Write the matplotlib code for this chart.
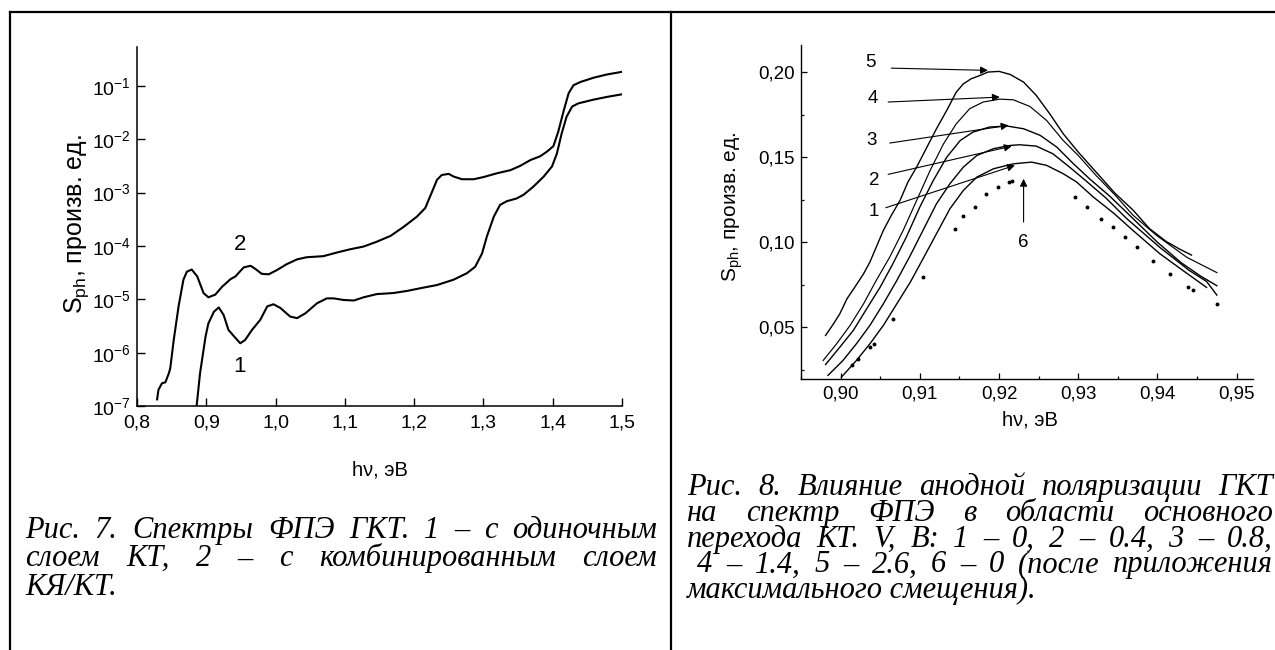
"""Two-panel figure: photoelectric spectra (log) and anode-bias series (linear)."""
import matplotlib
matplotlib.use("Agg")
import matplotlib.pyplot as plt
import numpy as np
from matplotlib.lines import Line2D
from matplotlib.ticker import FixedLocator, FuncFormatter, NullLocator, MultipleLocator

plt.rcParams["font.family"] = ["Liberation Sans", "DejaVu Sans"]
plt.rcParams["mathtext.fontset"] = "custom"
plt.rcParams["mathtext.rm"] = "Liberation Sans"
plt.rcParams["mathtext.it"] = "Liberation Sans:italic"

# ---- Fig. 7 data: photon energy (eV) and log10(S_ph) ----
e1 = [0.886, 0.891, 0.899, 0.903, 0.911, 0.918, 0.925, 0.932, 0.940, 0.949, 0.956,
      0.966, 0.978, 0.988, 0.997, 1.007, 1.021, 1.031, 1.043, 1.060, 1.074, 1.084,
      1.098, 1.113, 1.127, 1.146, 1.170, 1.190, 1.209, 1.233, 1.257, 1.276, 1.288,
      1.298, 1.305, 1.315, 1.324, 1.334, 1.348, 1.358, 1.372, 1.387, 1.399, 1.406,
      1.413, 1.420, 1.428, 1.437, 1.459, 1.478, 1.500]
log_s1 = [-7.0, -6.38, -5.69, -5.45, -5.23, -5.15, -5.29, -5.57, -5.69, -5.82, -5.76,
          -5.57, -5.38, -5.13, -5.09, -5.16, -5.32, -5.35, -5.26, -5.07, -4.98, -4.98,
          -5.01, -5.02, -4.96, -4.90, -4.88, -4.84, -4.79, -4.73, -4.63, -4.51, -4.39,
          -4.14, -3.82, -3.45, -3.23, -3.16, -3.11, -3.04, -2.89, -2.70, -2.51, -2.27,
          -1.89, -1.58, -1.39, -1.33, -1.26, -1.21, -1.16]
e2 = [0.829, 0.831, 0.836, 0.841, 0.846, 0.848, 0.853, 0.860, 0.867, 0.872, 0.879,
      0.887, 0.896, 0.903, 0.913, 0.923, 0.935, 0.942, 0.954, 0.964, 0.971, 0.980,
      0.990, 1.002, 1.016, 1.031, 1.045, 1.069, 1.089, 1.108, 1.127, 1.146, 1.166,
      1.185, 1.204, 1.216, 1.226, 1.233, 1.240, 1.250, 1.257, 1.269, 1.286, 1.300,
      1.319, 1.339, 1.353, 1.368, 1.382, 1.392, 1.401, 1.408, 1.416, 1.423, 1.430,
      1.440, 1.459, 1.478, 1.500]
log_s2 = [-6.87, -6.69, -6.57, -6.55, -6.38, -6.29, -5.76, -5.13, -4.63, -4.48, -4.44,
          -4.57, -4.88, -4.96, -4.91, -4.76, -4.62, -4.57, -4.40, -4.37, -4.43, -4.52,
          -4.53, -4.45, -4.34, -4.25, -4.21, -4.19, -4.12, -4.06, -4.01, -3.92, -3.81,
          -3.64, -3.45, -3.29, -2.98, -2.76, -2.67, -2.65, -2.70, -2.75, -2.75, -2.71,
          -2.64, -2.58, -2.50, -2.39, -2.32, -2.23, -2.13, -1.86, -1.46, -1.14, -0.99,
          -0.93, -0.85, -0.79, -0.74]
fig7_xticks = [0.8, 0.9, 1.0, 1.1, 1.2, 1.3, 1.4, 1.5]
fig7_yticks = [1e-7, 1e-6, 1e-5, 1e-4, 1e-3, 1e-2, 1e-1]

# ---- Fig. 8 data: bias series 1..5 and dotted curve 6 ----
c1x = [0.9001, 0.9020, 0.9037, 0.9054, 0.9071, 0.9088, 0.9104, 0.9121, 0.9138, 0.9155,
       0.9172, 0.9193, 0.9218, 0.9241, 0.9260, 0.9281, 0.9298, 0.9319, 0.9345, 0.9369,
       0.9403, 0.9432, 0.9462]
c1y = [0.0208, 0.0306, 0.0404, 0.0512, 0.0639, 0.0766, 0.0903, 0.1050, 0.1197, 0.1305,
       0.1383, 0.1432, 0.1461, 0.1471, 0.1452, 0.1403, 0.1354, 0.1266, 0.1170, 0.1070,
       0.0933, 0.0835, 0.0735]
c2x = [0.8984, 0.9003, 0.9020, 0.9037, 0.9054, 0.9071, 0.9088, 0.9104, 0.9121, 0.9138,
       0.9155, 0.9172, 0.9193, 0.9214, 0.9226, 0.9247, 0.9268, 0.9289, 0.9310, 0.9335,
       0.9361, 0.9403, 0.9440, 0.9462, 0.9475]
c2y = [0.0218, 0.0306, 0.0404, 0.0512, 0.0639, 0.0776, 0.0923, 0.1070, 0.1226, 0.1344,
       0.1442, 0.1510, 0.1550, 0.1569, 0.1573, 0.1565, 0.1520, 0.1442, 0.1360, 0.1260,
       0.1140, 0.0970, 0.0835, 0.0770, 0.0690]
c3x = [0.8981, 0.8999, 0.9016, 0.9033, 0.9050, 0.9066, 0.9083, 0.9100, 0.9117, 0.9134,
       0.9151, 0.9167, 0.9188, 0.9210, 0.9231, 0.9252, 0.9273, 0.9294, 0.9315, 0.9340,
       0.9369, 0.9400, 0.9430, 0.9455, 0.9475]
c3y = [0.0282, 0.0384, 0.0482, 0.0610, 0.0737, 0.0874, 0.1031, 0.1207, 0.1363, 0.1500,
       0.1598, 0.1647, 0.1677, 0.1683, 0.1667, 0.1628, 0.1559, 0.1461, 0.1370, 0.1270,
       0.1140, 0.1000, 0.0880, 0.0800, 0.0745]
c4x = [0.8978, 0.8995, 0.9012, 0.9029, 0.9045, 0.9062, 0.9079, 0.9096, 0.9113, 0.9130,
       0.9146, 0.9163, 0.9180, 0.9201, 0.9218, 0.9239, 0.9260, 0.9281, 0.9300, 0.9323,
       0.9346, 0.9369, 0.9399, 0.9437, 0.9475]
c4y = [0.0306, 0.0404, 0.0512, 0.0639, 0.0776, 0.0913, 0.1070, 0.1246, 0.1422, 0.1579,
       0.1696, 0.1785, 0.1824, 0.1841, 0.1837, 0.1798, 0.1716, 0.1598, 0.1510, 0.1390,
       0.1280, 0.1160, 0.1040, 0.0912, 0.0822]
c5x = [0.8981, 0.8991, 0.8999, 0.9008, 0.9018, 0.9029, 0.9037, 0.9045, 0.9054, 0.9064,
       0.9075, 0.9085, 0.9096, 0.9109, 0.9121, 0.9134, 0.9146, 0.9155, 0.9165, 0.9176,
       0.9186, 0.9200, 0.9214, 0.9231, 0.9247, 0.9264, 0.9281, 0.9300, 0.9323, 0.9346,
       0.9369, 0.9390, 0.9411, 0.9428, 0.9443]
c5y = [0.0453, 0.0521, 0.0580, 0.0668, 0.0737, 0.0815, 0.0884, 0.0972, 0.1070, 0.1158,
       0.1246, 0.1354, 0.1442, 0.1559, 0.1667, 0.1775, 0.1882, 0.1931, 0.1961, 0.1980,
       0.2000, 0.2004, 0.1986, 0.1941, 0.1863, 0.1755, 0.1638, 0.1530, 0.1410, 0.1290,
       0.1190, 0.1080, 0.1005, 0.0960, 0.0925]
c6x = [0.9014, 0.9022, 0.9037, 0.9042, 0.9066, 0.9104, 0.9144, 0.9155, 0.9170, 0.9184,
       0.9199, 0.9212, 0.9217, 0.9296, 0.9311, 0.9329, 0.9344, 0.9359, 0.9374, 0.9395,
       0.9416, 0.9439, 0.9445, 0.9475]
c6y = [0.0277, 0.0316, 0.0384, 0.0404, 0.0551, 0.0796, 0.1080, 0.1152, 0.1207, 0.1285,
       0.1324, 0.1354, 0.1358, 0.1266, 0.1207, 0.1138, 0.1089, 0.1031, 0.0972, 0.0890,
       0.0811, 0.0737, 0.0721, 0.0639]
fig8_xticks = [0.90, 0.91, 0.92, 0.93, 0.94, 0.95]
fig8_yticks = [0.05, 0.10, 0.15, 0.20]

# labels 1..6 with arrows: label pos, arrow tail, arrow head
curve_labels = ["5", "4", "3", "2", "1", "6"]
label_pos = [(0.9038, 0.2056), (0.9041, 0.1844), (0.9039, 0.1598),
             (0.9042, 0.1363), (0.9042, 0.1183), (0.9231, 0.1001)]
arrow_tail = [(0.9064, 0.2023), (0.9060, 0.1824), (0.9062, 0.1583),
              (0.9060, 0.1399), (0.9057, 0.1203), (0.9231, 0.1119)]
arrow_head = [(0.9186, 0.2010), (0.9201, 0.1853), (0.9212, 0.1687),
              (0.9216, 0.1565), (0.9220, 0.1452), (0.9231, 0.1373)]

cap7 = ["Рис. 7. Спектры ФПЭ ГКТ. 1 – с одиночным",
        "слоем КТ, 2 – с комбинированным слоем",
        "КЯ/КТ."]
cap8 = ["Рис. 8. Влияние анодной поляризации ГКТ",
        "на спектр ФПЭ в области основного",
        "перехода КТ. V, В: 1 – 0, 2 – 0.4, 3 – 0.8,",
        "4 – 1.4, 5 – 2.6, 6 – 0 (после приложения",
        "максимального смещения)."]

W, H = 1275, 650
fig = plt.figure(figsize=(W / 100, H / 100), dpi=100)


def fx(px):
    return px / W


def fy(py):
    return 1 - py / H


def comma(fmt):
    return FuncFormatter(lambda v, _: format(v, fmt).replace(".", ","))


# frame lines
for xs, ys in [([10, W], [12, 12]), ([10, 10], [12, H]), ([671, 671], [12, H])]:
    fig.add_artist(Line2D([fx(x) for x in xs], [fy(y) for y in ys],
                          transform=fig.transFigure, color="k", lw=1.6,
                          solid_capstyle="projecting"))

# ---------------- Fig. 7 ----------------
axL = fig.add_axes([fx(137), fy(406.3), (622 - 137) / W, (406.3 - 47.3) / H])
axL.plot(e1, 10 ** np.array(log_s1), color="k", lw=1.5)
axL.plot(e2, 10 ** np.array(log_s2), color="k", lw=1.5)
axL.set_yscale("log")
axL.set_xlim(0.8, 1.5)
axL.set_ylim(1e-7, 0.524)
axL.xaxis.set_major_locator(FixedLocator(fig7_xticks))
axL.xaxis.set_major_formatter(comma(".1f"))
axL.yaxis.set_major_locator(FixedLocator(fig7_yticks))
axL.yaxis.set_minor_locator(NullLocator())
axL.yaxis.set_major_formatter(
    FuncFormatter(lambda v, _: r"$\mathregular{10^{%d}}$" % round(np.log10(v))))
axL.tick_params(direction="in", length=6, width=1.0, labelsize=14)
axL.tick_params(axis="x", pad=6)
axL.tick_params(axis="y", pad=4.5)
for s in ["top", "right"]:
    axL.spines[s].set_visible(False)
for s in ["left", "bottom"]:
    axL.spines[s].set_linewidth(1.1)
axL.text(0.949, 10 ** -3.98, "2", fontsize=16, ha="center", va="center")
axL.text(0.948, 10 ** -6.26, "1", fontsize=16, ha="center", va="center")
fig.text(fx(380), fy(470), "hν, эВ", fontsize=14.5, ha="center", va="center")
fig.text(fx(77), fy(224), r"S$_{\mathregular{ph}}$, произв. ед.", fontsize=18,
         rotation=90, ha="center", va="center")

# ---------------- Fig. 8 ----------------
axR = fig.add_axes([fx(801), fy(379), (1253.3 - 801) / W, (379 - 45) / H])
for cx, cy, lw in [(c1x, c1y, 1.0), (c2x, c2y, 1.0), (c3x, c3y, 1.0),
                   (c4x, c4y, 0.85), (c5x, c5y, 1.0)]:
    axR.plot(cx, cy, color="k", lw=lw)
axR.plot(c6x, c6y, ls="none", marker="o", ms=1.8, color="k")
axR.set_xlim(0.8950, 0.9521)
axR.set_ylim(0.0197, 0.2159)
axR.xaxis.set_major_locator(FixedLocator(fig8_xticks))
axR.yaxis.set_major_locator(FixedLocator(fig8_yticks))
axR.xaxis.set_minor_locator(MultipleLocator(0.005))
axR.yaxis.set_minor_locator(MultipleLocator(0.025))
axR.xaxis.set_major_formatter(comma(".2f"))
axR.yaxis.set_major_formatter(comma(".2f"))
axR.tick_params(which="major", direction="in", length=4.2, width=0.9, labelsize=13.5)
axR.tick_params(which="minor", direction="in", length=2.5, width=0.9)
axR.tick_params(axis="x", pad=4.5)
axR.tick_params(axis="y", pad=4.5)
for s in ["top", "right"]:
    axR.spines[s].set_visible(False)
for s in ["left", "bottom"]:
    axR.spines[s].set_linewidth(1.0)
for lab, pos, tail, head in zip(curve_labels, label_pos, arrow_tail, arrow_head):
    axR.text(pos[0], pos[1], lab, fontsize=13.5, ha="center", va="center")
    axR.annotate("", xy=head, xytext=tail,
                 arrowprops=dict(arrowstyle="-|>", color="k", lw=0.8,
                                 mutation_scale=11, shrinkA=0, shrinkB=0))
fig.text(fx(1030), fy(420), "hν, эВ", fontsize=14.5, ha="center", va="center")
fig.text(fx(733), fy(207), r"S$_{\mathregular{ph}}$, произв. ед.", fontsize=15,
         rotation=90, ha="center", va="center")

# ---------------- captions (justified) ----------------
cap_font = dict(family="Liberation Serif", style="italic", size=22)
renderer = fig.canvas.get_renderer()


def caption_line(text, x0, x1, base, justify):
    if not justify:
        fig.text(fx(x0), fy(base), text, va="baseline", ha="left", **cap_font)
        return
    words = text.split()
    objs = [fig.text(0, fy(base), w, va="baseline", ha="left", **cap_font) for w in words]
    widths = [t.get_window_extent(renderer).width for t in objs]
    gap = (x1 - x0 - sum(widths)) / max(len(words) - 1, 1)
    x = x0
    for t, w in zip(objs, widths):
        t.set_x(fx(x))
        x += w + gap


for i, line in enumerate(cap7):
    caption_line(line, 25, 657, 538 + 28.3 * i, i < len(cap7) - 1)
for i, line in enumerate(cap8):
    x0 = 697 if i == 3 else 687
    caption_line(line, x0, 1273, 495 + 25.8 * i, i < len(cap8) - 1)

fig.savefig("out.png", dpi=100)
